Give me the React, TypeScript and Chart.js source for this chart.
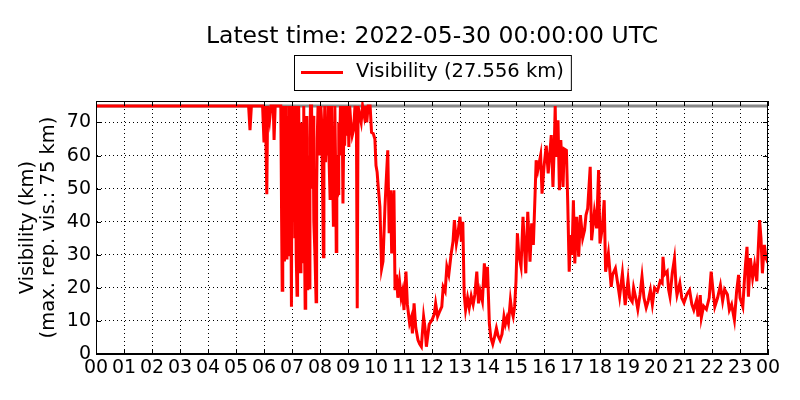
import React, { useEffect, useRef } from "react";
import { Chart, registerables } from "chart.js";

Chart.register(...registerables);

const titleText = "Latest time: 2022-05-30 00:00:00 UTC";
const legendLabel = "Visibility (27.556 km)";
const yAxisTitle = ["Visibility (km)", "(max. rep. vis.: 75 km)"];
const maxRepVis = 75;

const xTickValues = [0, 1, 2, 3, 4, 5, 6, 7, 8, 9, 10, 11, 12, 13, 14, 15, 16, 17, 18, 19, 20, 21, 22, 23, 24];
const xTickLabels = ["00", "01", "02", "03", "04", "05", "06", "07", "08", "09", "10", "11", "12", "13", "14", "15", "16", "17", "18", "19", "20", "21", "22", "23", "00"];
const yTickValues = [0, 10, 20, 30, 40, 50, 60, 70];

// hours since 00 UTC
const hours = [
  0, 5.45, 5.5, 5.55, 5.95, 6.0, 6.05, 6.1, 6.13, 6.2, 6.25, 6.33, 6.36, 6.4, 6.6,
  6.63, 6.65, 6.67, 6.69, 6.71, 6.73, 6.75, 6.77, 6.8, 6.82, 6.84, 6.86, 6.88, 6.9, 6.92,
  6.94, 6.96, 6.98, 7.0, 7.02, 7.04, 7.06, 7.08, 7.1, 7.12, 7.15, 7.18, 7.2, 7.22, 7.24,
  7.27, 7.3, 7.32, 7.34, 7.36, 7.38, 7.4, 7.42, 7.44, 7.47, 7.49, 7.51, 7.53, 7.56, 7.58,
  7.6, 7.62, 7.64, 7.66, 7.7, 7.72, 7.75, 7.78, 7.82, 7.86, 7.88, 7.9, 7.93, 7.97, 8.0,
  8.03, 8.06, 8.1, 8.12, 8.14, 8.17, 8.2, 8.23, 8.26, 8.29, 8.32, 8.36, 8.38, 8.41, 8.44,
  8.48, 8.5, 8.53, 8.56, 8.58, 8.6, 8.63, 8.65, 8.67, 8.7, 8.73, 8.76, 8.79, 8.82, 8.85,
  8.88, 8.92, 8.96, 9.0, 9.03, 9.06, 9.1, 9.15, 9.2, 9.25, 9.3, 9.33, 9.36, 9.42, 9.47,
  9.52, 9.58, 9.62, 9.67, 9.72, 9.79, 9.84, 9.9, 9.96,
  10.0, 10.04, 10.08, 10.14, 10.2, 10.25, 10.32, 10.38, 10.42, 10.47,
  10.52, 10.56, 10.6, 10.64, 10.68, 10.73, 10.78, 10.84, 10.9, 10.95, 11.0, 11.07, 11.12, 11.2, 11.26,
  11.3, 11.36, 11.42, 11.5, 11.56, 11.62, 11.7, 11.75, 11.8, 11.9, 12.0, 12.08, 12.13, 12.2, 12.28,
  12.35, 12.4, 12.47, 12.53, 12.6, 12.68, 12.75, 12.8, 12.87, 12.92, 13.0, 13.05, 13.1, 13.15, 13.2,
  13.27, 13.33, 13.4, 13.47, 13.53, 13.6, 13.66, 13.72, 13.8, 13.87, 13.92, 13.98, 14.05, 14.1, 14.17,
  14.23, 14.3, 14.36, 14.43, 14.5, 14.57, 14.62, 14.68, 14.73, 14.8, 14.85, 14.9, 14.95, 15.0, 15.05,
  15.1, 15.18, 15.25, 15.3, 15.35, 15.42, 15.5, 15.56, 15.62, 15.68, 15.72, 15.78, 15.88, 15.93, 16.0,
  16.08, 16.15, 16.26, 16.32, 16.37, 16.4, 16.43, 16.5, 16.55, 16.6, 16.68, 16.72, 16.8, 16.85, 16.9,
  16.95, 17.0, 17.05, 17.1, 17.17, 17.24, 17.3, 17.38, 17.45, 17.5, 17.56, 17.65, 17.7, 17.8, 17.88,
  17.95, 18.0, 18.08, 18.15, 18.2, 18.26, 18.3, 18.4, 18.45, 18.55, 18.62, 18.7, 18.8, 18.9, 19.0,
  19.06, 19.15, 19.2, 19.3, 19.35, 19.43, 19.5, 19.57, 19.65, 19.72, 19.8, 19.87, 19.95, 20.05, 20.15,
  20.22, 20.25, 20.3, 20.4, 20.45, 20.5, 20.58, 20.66, 20.72, 20.75, 20.85, 20.92, 21.0, 21.1, 21.2,
  21.28, 21.35, 21.45, 21.5, 21.58, 21.62, 21.7, 21.8, 21.9, 21.97, 22.05, 22.1, 22.2, 22.3, 22.38,
  22.45, 22.55, 22.62, 22.7, 22.8, 22.88, 22.95, 23.0, 23.1, 23.17, 23.2, 23.25, 23.3, 23.37, 23.45,
  23.52, 23.6, 23.65, 23.7, 23.75, 23.8, 23.87, 23.93, 24.0,
];

// visibility (km)
const visibility = [
  75, 75, 67.7, 75, 75, 64, 75, 48.3, 75, 70.7, 75, 75, 64.7, 75, 75,
  40, 19.3, 75, 35, 60, 28, 75, 45, 29, 72, 38, 30, 75, 50, 35,
  75, 45, 14.3, 75, 55, 75, 40, 75, 35, 60, 30, 17.8, 75, 45, 75,
  35, 24.9, 70, 40, 65, 35, 27.9, 75, 40, 13.8, 45, 72, 30, 19.3, 60,
  35, 20, 65, 75, 75, 50, 72, 40, 30, 15.8, 50, 65, 75, 60, 72,
  75, 70, 45, 29.4, 60, 75, 58, 70, 60, 75, 60, 47, 55, 75, 60,
  38.5, 62, 75, 55, 31, 60, 48, 48.5, 70, 60, 75, 62, 75, 45.5, 68,
  63, 75, 66, 75, 62.6, 75, 70, 66, 67.7, 75, 72, 13.8, 75, 72, 70,
  75, 72, 75, 70, 75, 75, 67, 66.7, 65,
  57, 55, 50.5, 44.5, 25.8, 28, 44.5, 55, 61.6, 36.5,
  49.5, 30.4, 45, 49.5, 19.3, 24, 17, 22, 17, 19, 13.3, 24.9, 15, 9.3, 11,
  6.2, 15.3, 8, 4.2, 3, 2.2, 11.3, 8, 2.2, 9, 10.3, 12, 15.3, 11.3, 13,
  14.3, 20.3, 19, 26.4, 24, 30, 34, 40.5, 33.4, 36, 41.5, 34, 40, 18, 13.3,
  17, 14, 17.5, 15, 18, 24.9, 15.3, 19, 16, 27.4, 20, 26.4, 9, 5, 3,
  5, 7.8, 5.5, 4.2, 6, 11.3, 9, 11, 9.3, 16.3, 13, 11.3, 14.3, 22, 36.5,
  30, 26.4, 41.5, 33, 24.4, 43, 27.9, 39.5, 33, 48, 58.6, 55.6, 60.1, 48.5, 56.6,
  63, 54.6, 66.2, 50.5, 64, 75, 59.6, 70.7, 49.5, 64.7, 50.5, 62, 61.6, 45, 24.9,
  36, 30, 46.5, 27.4, 41.5, 29.4, 42, 35, 37.5, 42, 44, 56.6, 34.4, 43, 38,
  55.6, 33.4, 38, 46.5, 24.9, 28, 30.4, 20.3, 24, 25.9, 22, 17.3, 24.4, 14.8, 22.4,
  17, 15.8, 20, 16, 13.5, 18, 23.4, 17, 14, 16, 19.3, 15, 20, 19, 22,
  21.4, 29.4, 24, 25, 19.5, 17.3, 24.4, 28.9, 20, 17.8, 21.4, 17, 15.5, 18, 19.3,
  15, 13.3, 16.3, 11.3, 17.8, 11, 14.5, 13.5, 17, 24.9, 18, 14.3, 17, 20.8, 16,
  19.5, 18, 13.3, 15, 10.3, 19, 23.9, 17, 14.3, 24, 27.4, 32.4, 17.3, 29, 23,
  27, 22, 31.4, 40.5, 35, 24.4, 33, 29, 27.556,
];

const FONT = '"DejaVu Sans", "Liberation Sans", sans-serif';

const decorPlugin = {
  id: "decor",
  afterDraw(chart: any) {
    const { ctx, chartArea, scales } = chart;
    const { left, right, top, bottom } = chartArea;
    const cx = (left + right) / 2;
    ctx.save();
    // axes frame
    ctx.strokeStyle = "#000";
    ctx.lineWidth = 1;
    ctx.setLineDash([]);
    ctx.strokeRect(left + 0.5, top + 0.5, right - left - 1, bottom - top - 1);
    // inward tick marks
    const tl = 5;
    ctx.beginPath();
    xTickValues.forEach((v) => {
      const x = Math.round(scales.x.getPixelForValue(v)) + 0.5;
      ctx.moveTo(x, bottom);
      ctx.lineTo(x, bottom - tl);
      ctx.moveTo(x, top);
      ctx.lineTo(x, top + tl);
    });
    yTickValues.forEach((v) => {
      const y = Math.round(scales.y.getPixelForValue(v)) + 0.5;
      ctx.moveTo(left, y);
      ctx.lineTo(left + tl, y);
      ctx.moveTo(right, y);
      ctx.lineTo(right - tl, y);
    });
    ctx.stroke();
    // title
    ctx.fillStyle = "#000";
    ctx.font = `23.5px ${FONT}`;
    ctx.textAlign = "center";
    ctx.textBaseline = "alphabetic";
    ctx.fillText(titleText, cx, 42.5);
    // legend
    ctx.font = `19.5px ${FONT}`;
    const tw = ctx.measureText(legendLabel).width;
    const boxW = 7 + 42 + 13 + tw + 7;
    const boxH = 35;
    const bx = Math.round(cx - boxW / 2);
    const by = 55;
    ctx.fillStyle = "#fff";
    ctx.fillRect(bx, by, boxW, boxH);
    ctx.strokeStyle = "#000";
    ctx.lineWidth = 1;
    ctx.strokeRect(bx + 0.5, by + 0.5, boxW, boxH);
    ctx.strokeStyle = "#ff0000";
    ctx.lineWidth = 3;
    ctx.beginPath();
    ctx.moveTo(bx + 7, by + 17.5);
    ctx.lineTo(bx + 49, by + 17.5);
    ctx.stroke();
    ctx.fillStyle = "#000";
    ctx.textAlign = "left";
    ctx.textBaseline = "middle";
    ctx.fillText(legendLabel, bx + 62, by + 16.5);
    ctx.restore();
  },
};

export default function App() {
  const canvasRef = useRef<HTMLCanvasElement | null>(null);

  useEffect(() => {
    if (!canvasRef.current) return;
    const chart = new Chart(canvasRef.current, {
      type: "line",
      data: {
        datasets: [
          {
            label: legendLabel,
            data: hours.map((h, i) => ({ x: h, y: visibility[i] })),
            borderColor: "#ff0000",
            backgroundColor: "#ff0000",
            borderWidth: 3,
            pointRadius: 0,
            tension: 0,
            borderJoinStyle: "miter",
          },
          {
            label: "max. rep. vis.",
            data: [
              { x: 0, y: maxRepVis },
              { x: 24, y: maxRepVis },
            ],
            borderColor: "#888888",
            borderWidth: 3,
            pointRadius: 0,
          },
        ],
      },
      options: {
        responsive: false,
        animation: false,
        devicePixelRatio: 1,
        layout: { padding: { top: 101, right: 32, left: 0, bottom: 0 } },
        plugins: {
          legend: { display: false },
          title: { display: false },
          tooltip: { enabled: false },
        },
        scales: {
          x: {
            type: "linear",
            min: 0,
            max: 24,
            afterBuildTicks: (s: any) => {
              s.ticks = xTickValues.map((v) => ({ value: v }));
            },
            afterFit: (s: any) => {
              s.height = 46;
            },
            ticks: {
              autoSkip: false,
              maxRotation: 0,
              color: "#000",
              padding: 3,
              font: { family: FONT, size: 19 },
              callback: (_v: any, i: number) => xTickLabels[i],
            },
            grid: { color: "#000", lineWidth: 1, drawTicks: false },
            border: { display: true, color: "#000", width: 1, dash: [1, 3] },
          },
          y: {
            type: "linear",
            min: 0,
            max: 76.5,
            afterBuildTicks: (s: any) => {
              s.ticks = yTickValues.map((v) => ({ value: v }));
            },
            afterFit: (s: any) => {
              s.width = 96;
            },
            ticks: {
              color: "#000",
              padding: 5,
              font: { family: FONT, size: 19 },
            },
            title: {
              display: true,
              text: yAxisTitle,
              color: "#000",
              font: { family: FONT, size: 19.5, lineHeight: 1.1 },
              padding: { top: 17, bottom: 0 },
            },
            grid: { color: "#000", lineWidth: 1, drawTicks: false },
            border: { display: true, color: "#000", width: 1, dash: [1, 3] },
          },
        },
      },
      plugins: [decorPlugin],
    } as any);
    return () => chart.destroy();
  }, []);

  return (
    <div style={{ position: "fixed", left: 0, top: 0, width: 800, height: 400, background: "#fff" }}>
      <canvas ref={canvasRef} width={800} height={400} style={{ display: "block" }} />
    </div>
  );
}
